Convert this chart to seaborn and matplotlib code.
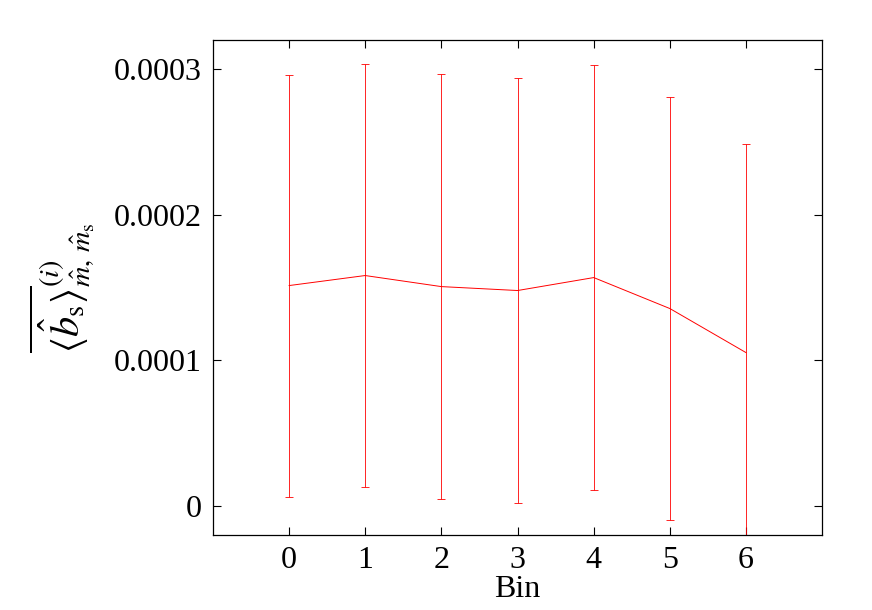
import matplotlib
matplotlib.use("Agg")
import matplotlib.pyplot as plt
import numpy as np
import pandas as pd
import seaborn as sns

# data
bins = [0, 1, 2, 3, 4, 5, 6]
mean_b = [0.0001514, 0.0001583, 0.0001507, 0.0001480, 0.0001569, 0.0001356, 0.0001053]
err_b = [0.0001450, 0.0001455, 0.0001462, 0.0001458, 0.0001462, 0.0001452, 0.0001431]

df = pd.DataFrame({"Bin": bins, "b": mean_b, "err": err_b})

sns.set_style("ticks")
plt.rcParams['font.family'] = ['Liberation Serif', 'DejaVu Serif']
plt.rcParams['mathtext.fontset'] = 'stix'
plt.rcParams['text.color'] = 'black'
plt.rcParams['axes.labelcolor'] = 'black'
plt.rcParams['xtick.color'] = 'black'
plt.rcParams['ytick.color'] = 'black'
plt.rcParams['axes.edgecolor'] = 'black'

fig, ax = plt.subplots(figsize=(8.72, 6.1), dpi=100)
fig.subplots_adjust(left=0.244, right=0.943, top=0.934, bottom=0.123)

ax.errorbar(df["Bin"], df["b"], yerr=df["err"], fmt='none', ecolor='red',
            elinewidth=0.6, capsize=3, capthick=0.6)
sns.lineplot(data=df, x="Bin", y="b", ax=ax, color='red', linewidth=0.7)

ax.set_xlim(-1, 7)
ax.set_ylim(-0.00002, 0.00032)
ax.set_xticks(bins)
ax.set_yticks([0, 0.0001, 0.0002, 0.0003])
ax.set_yticklabels(['0', '0.0001', '0.0002', '0.0003'])

ax.tick_params(direction='in', top=True, right=True, labelsize=23, length=6, width=0.8, pad=8)
for s in ax.spines.values():
    s.set_linewidth(0.9)

ax.set_xlabel('Bin', fontsize=23, labelpad=0)
ax.set_ylabel(r'$\overline{\langle\hat{b}_{\mathrm{s}}\rangle}^{(i)}_{\hat{m},\,\hat{m}_{\mathrm{s}}}$',
              fontsize=29, labelpad=12)

fig.savefig('out.png', dpi=100)
